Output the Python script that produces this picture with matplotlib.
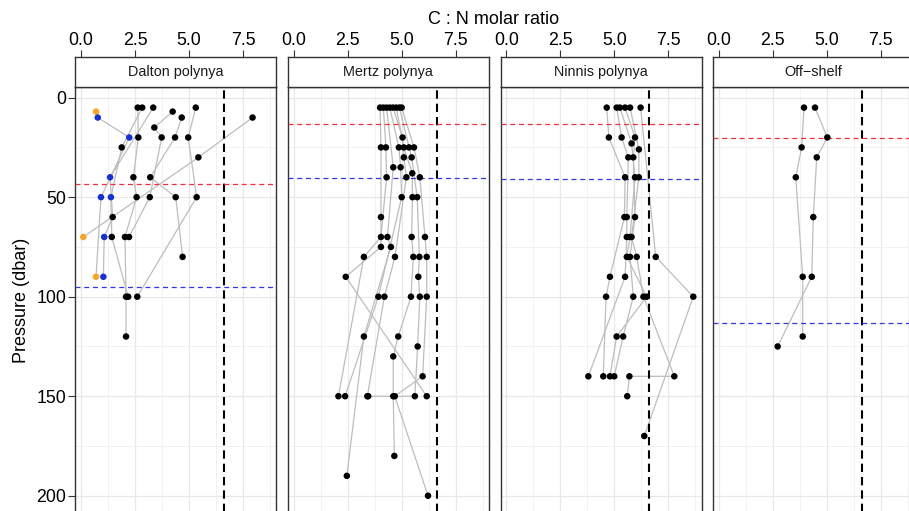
import matplotlib
matplotlib.use("Agg")
import matplotlib.pyplot as plt
from matplotlib.ticker import MultipleLocator, FormatStrFormatter

plt.rcParams['font.family'] = ['Liberation Sans', 'DejaVu Sans']

# ---------------- data ----------------
panel_names = ["Dalton polynya", "Mertz polynya", "Ninnis polynya", "Off\u2212shelf"]
redfield_cn = 6.625
red_line_p = [43.4, 13.2, 13.2, 20.4]
blue_line_p = [95.0, 40.2, 41.0, 113.1]
x_ticks = [0.0, 2.5, 5.0, 7.5]
y_ticks = [0, 50, 100, 150, 200]

dalton_cn = [
    [2.62, 2.65, 2.42, 2.57, 2.03, 2.08, 2.08],
    [2.83, 1.88, 1.38, 1.42, 2.18],
    [3.34, 1.34, 1.46, 1.07, 1.03],
    [0.69, 0.77, 2.23, 0.92, 0.69],
    [4.66, 4.35, 3.20, 4.38, 4.70],
    [5.31, 4.96, 5.35, 2.60],
    [7.94, 5.43, 0.10],
    [4.24, 3.39, 3.73, 3.18, 2.22],
]
dalton_p = [
    [5, 20, 40, 50, 70, 100, 120],
    [5, 25, 50, 70, 100],
    [5, 40, 60, 70, 90],
    [7, 10, 20, 50, 90],
    [10, 20, 40, 50, 80],
    [5, 20, 50, 100],
    [10, 30, 70],
    [7, 15, 20, 50, 70],
]
dalton_flag = ["kkkkkkk", "kkbkk", "kbkbb", "obbbo", "kkkkk", "kkkk", "kko", "kkkkk"]

mertz_cn = [
    [4.00, 4.04, 4.04, 4.04, 2.41, 6.16],
    [4.15, 4.27, 4.30, 4.04, 3.25, 2.07],
    [4.30, 4.61, 4.34, 4.50, 3.25, 2.46],
    [4.45, 4.87, 4.95, 5.00, 3.92, 2.38],
    [4.60, 5.04, 5.10, 5.22, 4.69, 4.20, 3.41],
    [4.75, 5.10, 5.49, 5.50, 5.46, 5.54, 5.43, 4.84, 4.61, 4.61, 4.66],
    [4.90, 5.34, 5.46, 5.72, 5.82, 5.77, 5.84, 5.74, 5.61, 3.45],
    [5.00, 5.57, 5.84, 6.08, 6.16, 6.16, 5.97, 4.68, 6.22],
]
mertz_p = [
    [5, 25, 60, 75, 90, 150],
    [5, 25, 40, 70, 80, 150],
    [5, 35, 70, 75, 120, 190],
    [5, 25, 35, 50, 100, 150],
    [5, 20, 30, 40, 80, 100, 150],
    [5, 25, 38, 50, 70, 80, 100, 120, 130, 150, 180],
    [5, 25, 30, 50, 80, 90, 100, 125, 150, 150],
    [5, 25, 40, 70, 80, 100, 140, 150, 200],
]

ninnis_cn = [
    [4.65, 4.75, 5.50, 5.47, 4.80, 4.62, 4.49],
    [5.11, 5.34, 5.65, 5.58, 5.58, 5.50, 3.80],
    [5.26, 5.80, 5.96, 5.73, 5.58, 6.50, 5.11, 4.80],
    [5.50, 5.96, 5.88, 5.96, 5.73, 5.88, 5.41, 5.00],
    [5.73, 6.14, 6.14, 5.80, 6.04, 6.35, 7.78, 5.70, 5.60],
    [6.22, 6.92, 8.66, 6.39],
]
ninnis_p = [
    [5, 20, 40, 60, 90, 100, 140],
    [5, 20, 30, 60, 70, 90, 140],
    [5, 23, 40, 70, 80, 100, 120, 140],
    [5, 20, 30, 60, 80, 100, 120, 140],
    [5, 26, 40, 70, 80, 100, 140, 140, 150],
    [5, 80, 100, 170],
]

offshelf_cn = [
    [3.94, 3.83, 3.56, 3.88, 3.88],
    [4.45, 5.02, 4.53, 4.37, 4.30, 2.72],
]
offshelf_p = [
    [5, 25, 40, 90, 120],
    [5, 20, 30, 60, 90, 125],
]

panel_cn = [dalton_cn, mertz_cn, ninnis_cn, offshelf_cn]
panel_p = [dalton_p, mertz_p, ninnis_p, offshelf_p]
panel_flags = [dalton_flag, None, None, None]
flag_colors = {"k": "black", "b": "#1530D8", "o": "#F5A623"}

# ---------------- layout ----------------
W, H = 909, 511
fig = plt.figure(figsize=(W / 100, H / 100), dpi=100)
fig.patch.set_facecolor("white")


def rect(l, t, w, h):
    return [l / W, 1 - (t + h) / H, w / W, h / H]


border = "#333333"
for i, name in enumerate(panel_names):
    left = 75.3 + i * 212.6
    ax = fig.add_axes(rect(left, 87.3, 201, 438.3))
    strip = fig.add_axes(rect(left, 57.3, 201, 30), sharex=ax)

    ax.set_xlim(-0.27, 9.04)
    ax.set_ylim(215, -5.2)
    ax.xaxis.set_major_locator(MultipleLocator(2.5))
    ax.xaxis.set_minor_locator(MultipleLocator(1.25))
    ax.xaxis.set_major_formatter(FormatStrFormatter("%.1f"))
    ax.set_yticks(y_ticks)
    ax.yaxis.set_minor_locator(MultipleLocator(25))
    ax.grid(which="major", color="#E8E8E8", lw=0.9, zorder=0)
    ax.grid(which="minor", color="#F0F0F0", lw=0.6, zorder=0)
    ax.set_axisbelow(True)
    ax.tick_params(axis="x", which="both", bottom=False, top=False,
                   labelbottom=False, labeltop=False)
    ax.tick_params(axis="y", which="minor", length=0)
    if i == 0:
        ax.tick_params(axis="y", which="major", length=5, width=0.8,
                       color=border, labelsize=12.8, pad=1.5)
    else:
        ax.tick_params(axis="y", which="major", left=False, labelleft=False)
    for sp in ax.spines.values():
        sp.set_color(border)
        sp.set_linewidth(1.0)

    # reference lines
    ax.axvline(redfield_cn, color="black", lw=1.5, ls=(0, (4, 2.4)), zorder=4)
    ax.axhline(red_line_p[i], color="#F0303F", lw=0.9, ls=(0, (4, 3)), zorder=4)
    ax.axhline(blue_line_p[i], color="#3535E8", lw=0.9, ls=(0, (4, 3)), zorder=4)

    cns, ps = panel_cn[i], panel_p[i]
    flags = panel_flags[i]
    for j, (xs, ys) in enumerate(zip(cns, ps)):
        ax.plot(xs, ys, color="#BDBDBD", lw=0.9, zorder=2)
    for j, (xs, ys) in enumerate(zip(cns, ps)):
        if flags is not None:
            cols = [flag_colors[f] for f in flags[j]]
        else:
            cols = ["black"] * len(xs)
        ax.scatter(xs, ys, s=22, c=cols, edgecolors="none", zorder=5)

    # strip with top x axis
    strip.set_ylim(0, 1)
    strip.set_yticks([])
    strip.xaxis.tick_top()
    strip.tick_params(axis="x", which="major", length=5, width=0.8,
                      color=border, labelsize=12.8, pad=1.2,
                      top=True, bottom=False, labeltop=True, labelbottom=False)
    strip.tick_params(axis="x", which="minor", length=0, top=False, bottom=False)
    strip.set_facecolor("white")
    for sp in strip.spines.values():
        sp.set_color(border)
        sp.set_linewidth(1.0)
    strip.text(0.5, 0.5, name, transform=strip.transAxes, ha="center",
               va="center", fontsize=10.4, color="#1A1A1A")

fig.text(494 / W, 1 - 20 / H, "C : N molar ratio", ha="center", va="center",
         fontsize=13)
fig.text(22 / W, 1 - 300 / H, "Pressure (dbar)", ha="center", va="center",
         rotation=90, fontsize=13)

fig.savefig("out.png", dpi=100)
